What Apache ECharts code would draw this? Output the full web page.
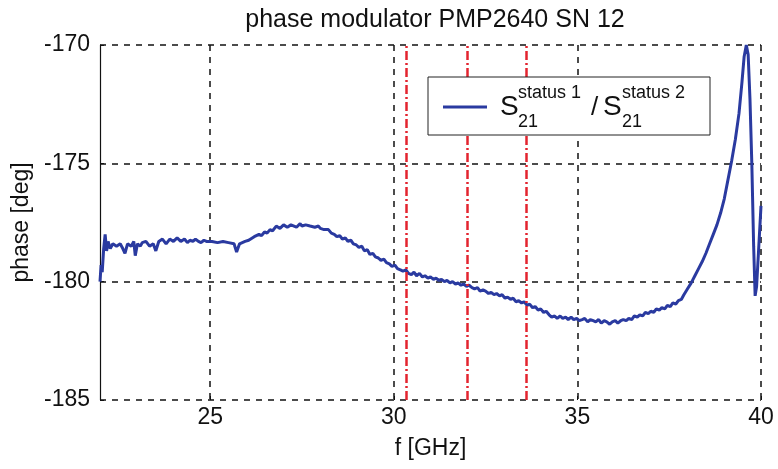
<!DOCTYPE html>
<html>
<head>
<meta charset="utf-8">
<script src="https://cdn.jsdelivr.net/npm/echarts@6/dist/echarts.min.js"></script>
<style>
html,body{margin:0;padding:0;background:#fff;}
#chart{width:778px;height:469px;}
</style>
</head>
<body>
<div id="chart"></div>
<script>
const titleText = 'phase modulator PMP2640 SN 12';
const xAxisName = 'f [GHz]';
const yAxisName = 'phase [deg]';
const xTicks = [25, 30, 35, 40];
const markerFreqs = [30.35, 32.0, 33.6];

const freq = [
22.00,22.03,22.06,22.10,22.14,22.18,22.22,22.28,22.35,22.45,22.55,22.62,22.68,22.75,22.85,22.92,22.96,23.02,23.10,23.15,
23.25,23.35,23.45,23.52,23.60,23.70,23.80,23.90,24.00,24.10,24.20,24.30,24.38,24.45,24.53,24.60,24.68,24.75,24.83,24.90,
25.05,25.20,25.35,25.50,25.65,25.72,25.80,25.95,26.05,26.10,26.20,26.25,26.33,26.40,26.48,26.55,26.63,26.70,26.80,26.90,
27.00,27.10,27.20,27.35,27.45,27.50,27.60,27.72,27.85,27.95,28.00,28.10,28.15,28.22,28.30,28.38,28.45,28.53,28.60,28.68,
28.75,28.83,28.90,28.98,29.05,29.13,29.20,29.28,29.35,29.43,29.50,29.58,29.65,29.73,29.80,29.88,29.95,30.03,30.10,30.18,
30.25,30.33,30.40,30.48,30.55,30.62,30.70,30.78,30.85,30.93,31.00,31.08,31.15,31.23,31.30,31.38,31.45,31.53,31.60,31.68,
31.75,31.83,31.90,31.98,32.05,32.13,32.20,32.28,32.35,32.43,32.50,32.58,32.65,32.73,32.80,32.88,32.95,33.03,33.10,33.18,
33.25,33.33,33.40,33.48,33.55,33.63,33.70,33.78,33.85,33.93,34.00,34.08,34.15,34.23,34.30,34.38,34.45,34.53,34.60,34.68,
34.75,34.83,34.90,34.98,35.05,35.13,35.20,35.28,35.35,35.43,35.50,35.58,35.65,35.73,35.80,35.88,35.95,36.03,36.10,36.18,
36.25,36.33,36.40,36.48,36.55,36.63,36.70,36.78,36.85,36.93,37.00,37.08,37.15,37.23,37.30,37.38,37.45,37.53,37.60,37.68,
37.75,37.83,37.90,38.00,38.10,38.20,38.30,38.40,38.50,38.60,38.70,38.80,38.90,39.00,39.10,39.20,39.30,39.40,39.48,39.54,
39.60,39.65,39.70,39.75,39.80,39.84,39.88,39.93,40.00
];
const phase = [
-180.0,-179.3,-179.6,-178.6,-178.0,-178.7,-178.3,-178.6,-178.4,-178.5,-178.4,-178.6,-178.8,-178.4,-178.5,-178.3,-178.9,-178.4,-178.5,-178.35,
-178.3,-178.5,-178.4,-178.7,-178.3,-178.2,-178.4,-178.2,-178.3,-178.15,-178.3,-178.2,-178.35,-178.25,-178.3,-178.2,-178.3,-178.35,-178.25,-178.3,
-178.3,-178.35,-178.3,-178.35,-178.4,-178.75,-178.4,-178.3,-178.25,-178.2,-178.1,-178.15,-178.0,-178.05,-177.9,-177.95,-177.8,-177.85,-177.65,-177.75,
-177.6,-177.7,-177.6,-177.7,-177.55,-177.65,-177.6,-177.65,-177.7,-177.65,-177.75,-177.8,-177.85,-177.8,-177.95,-178.0,-178.1,-178.05,-178.2,-178.15,
-178.3,-178.25,-178.4,-178.45,-178.55,-178.5,-178.7,-178.65,-178.85,-178.8,-178.95,-179.0,-179.1,-179.05,-179.2,-179.25,-179.35,-179.3,-179.45,-179.5,
-179.55,-179.5,-179.65,-179.7,-179.6,-179.75,-179.65,-179.8,-179.75,-179.85,-179.8,-179.9,-179.85,-179.95,-179.9,-180.0,-179.95,-180.05,-180.0,-180.1,
-180.05,-180.15,-180.1,-180.2,-180.15,-180.25,-180.3,-180.25,-180.4,-180.35,-180.4,-180.5,-180.45,-180.55,-180.5,-180.6,-180.55,-180.7,-180.65,-180.75,
-180.7,-180.85,-180.8,-180.9,-180.85,-181.0,-180.95,-181.1,-181.05,-181.2,-181.15,-181.3,-181.25,-181.4,-181.5,-181.45,-181.55,-181.45,-181.55,-181.5,
-181.6,-181.5,-181.6,-181.55,-181.65,-181.6,-181.55,-181.7,-181.6,-181.65,-181.7,-181.6,-181.75,-181.65,-181.7,-181.8,-181.7,-181.65,-181.75,-181.65,
-181.6,-181.65,-181.55,-181.6,-181.45,-181.5,-181.4,-181.45,-181.3,-181.35,-181.25,-181.3,-181.15,-181.2,-181.1,-181.15,-181.0,-181.05,-180.9,-180.95,
-180.8,-180.75,-180.55,-180.3,-180.05,-179.75,-179.45,-179.15,-178.8,-178.4,-178.0,-177.6,-177.1,-176.5,-175.7,-174.9,-174.0,-172.9,-171.6,-170.5,
-170.0,-170.4,-172.3,-175.0,-178.5,-180.6,-180.2,-178.8,-176.8
];

const lineColor = '#2a3aa0';
const font = '"Liberation Sans", Arial, sans-serif';

const chart = echarts.init(document.getElementById('chart'), null, {renderer: 'canvas'});
const gridLine = {show: true, lineStyle: {color: '#111', type: [6, 6], width: 1.5}};

chart.setOption({
  animation: false,
  backgroundColor: '#fff',
  title: {
    text: titleText, left: 430, top: 3, textAlign: 'center',
    textStyle: {fontFamily: font, fontSize: 25, fontWeight: 'normal', color: '#111'}
  },
  grid: {left: 100, right: 17, top: 45, bottom: 69},
  xAxis: {
    type: 'value', min: 22, max: 40,
    name: xAxisName, nameLocation: 'middle', nameGap: 37,
    nameTextStyle: {fontFamily: font, fontSize: 23, color: '#111'},
    axisLine: {show: false},
    axisTick: {show: true, inside: true, length: 4, customValues: xTicks, lineStyle: {color: '#111'}},
    axisLabel: {customValues: xTicks, fontFamily: font, fontSize: 23, color: '#111', margin: 6},
    splitLine: gridLine
  },
  yAxis: {
    type: 'value', min: -185, max: -170, interval: 5,
    name: yAxisName, nameLocation: 'middle', nameGap: 65, nameRotate: 90,
    nameTextStyle: {fontFamily: font, fontSize: 23, color: '#111'},
    axisLine: {show: true, lineStyle: {color: '#111', width: 1.2}},
    axisTick: {show: true, inside: true, length: 4, lineStyle: {color: '#111'}},
    axisLabel: {fontFamily: font, fontSize: 23, color: '#111', margin: 10},
    splitLine: gridLine
  },
  series: [{
    type: 'line',
    data: freq.map((f, i) => [f, phase[i]]),
    showSymbol: false,
    symbol: 'none',
    lineStyle: {color: lineColor, width: 3},
    z: 3,
    markLine: {
      silent: true, symbol: 'none', label: {show: false},
      lineStyle: {color: '#e3242f', width: 2.5, type: [9, 3, 2, 3]},
      data: markerFreqs.map(v => ({xAxis: v}))
    }
  }],
  graphic: [
    {type: 'rect', shape: {x: 428, y: 77, width: 282, height: 58}, style: {fill: '#fff', stroke: '#222', lineWidth: 1}, z: 10},
    {type: 'line', shape: {x1: 443, y1: 107, x2: 487, y2: 107}, style: {stroke: lineColor, lineWidth: 3}, z: 11},
    {type: 'text', x: 500, y: 107, style: {text: 'S', font: '28px ' + font, fill: '#111', verticalAlign: 'middle'}, z: 11},
    {type: 'text', x: 518, y: 93, style: {text: 'status 1', font: '18px ' + font, fill: '#111', verticalAlign: 'middle'}, z: 11},
    {type: 'text', x: 518, y: 122, style: {text: '21', font: '18px ' + font, fill: '#111', verticalAlign: 'middle'}, z: 11},
    {type: 'text', x: 591, y: 108, style: {text: '/', font: '26px ' + font, fill: '#111', verticalAlign: 'middle'}, z: 11},
    {type: 'text', x: 603, y: 107, style: {text: 'S', font: '28px ' + font, fill: '#111', verticalAlign: 'middle'}, z: 11},
    {type: 'text', x: 622, y: 93, style: {text: 'status 2', font: '18px ' + font, fill: '#111', verticalAlign: 'middle'}, z: 11},
    {type: 'text', x: 622, y: 122, style: {text: '21', font: '18px ' + font, fill: '#111', verticalAlign: 'middle'}, z: 11}
  ]
});
</script>
</body>
</html>
